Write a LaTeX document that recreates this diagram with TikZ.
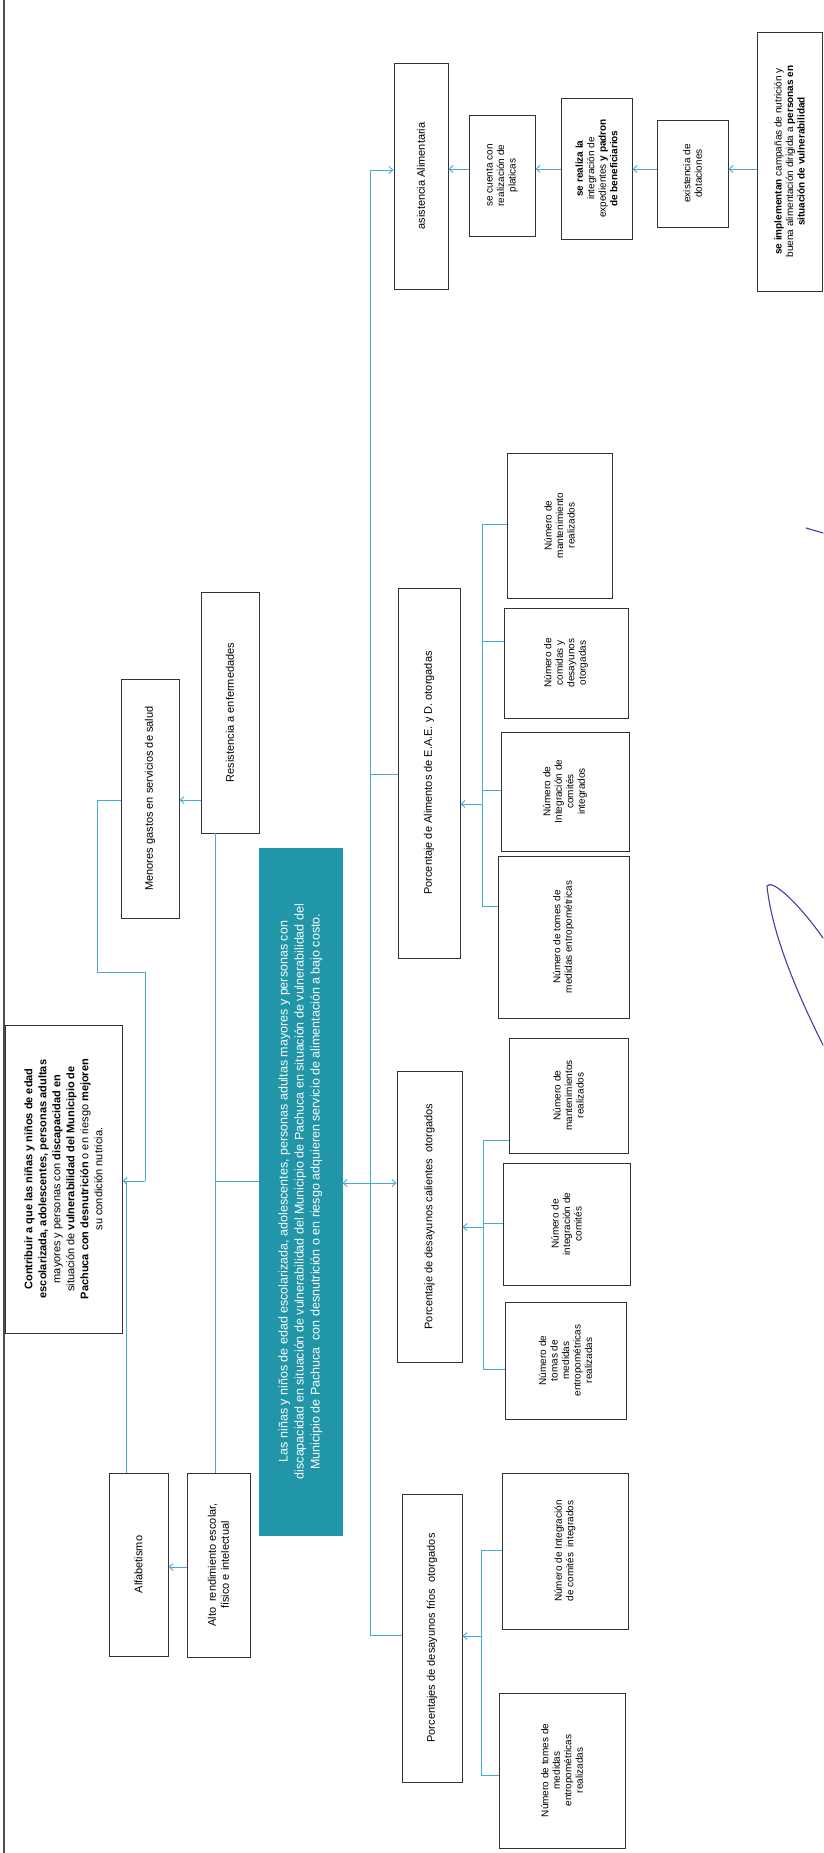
\documentclass[tikz,border=0pt]{standalone}
\usepackage{fontspec}
\setmainfont{Liberation Sans}
\usetikzlibrary{arrows.meta,calc}
\definecolor{tealc}{RGB}{32,150,168}
\definecolor{conn}{RGB}{72,168,215}
\definecolor{ink}{RGB}{70,60,165}
\tikzset{
  box/.style={draw=black!80, line width=0.9pt, fill=white, align=center, inner sep=1pt, rotate=90, font=\fontsize{10}{11.5}\selectfont},
  bigbox/.style={box, font=\fontsize{11}{13}\selectfont},
  finbox/.style={box, font=\fontsize{11}{14}\selectfont},
  tealbox/.style={box, fill=tealc, draw=tealc, text=white, font=\fontsize{12.5}{16}\selectfont},
  link/.style={draw=conn, line width=0.9pt},
  arr/.style={link, -{Straight Barb[length=4pt,width=7pt]}},
  sig/.style={draw=ink, line width=1.1pt, line cap=round}
}
\newcommand\mkbox[7][box]{\node[#1,minimum width={(#6-#5)*1pt},minimum height={(#4-#3)*1pt}] (#2) at ({(#3+#4)/2},{(#5+#6)/2}) {#7};}
\begin{document}
\begin{tikzpicture}[x=1pt,y=-1pt]
\fill[white] (0,0) rectangle (824,1853);
\useasboundingbox (0,0) rectangle (824,1853);
\draw[black!70, line width=1.2pt] (4,0) -- (4,1853);

% Fines
\mkbox[finbox]{contrib}{5}{122}{1025}{1333}{\textbf{Contribuir a que las niñas y niños de edad}\\\textbf{escolarizada, adolescentes, personas adultas}\\mayores y personas con \textbf{discapacidad en}\\situación de \textbf{vulnerabilidad del Municipio de}\\\textbf{Pachuca con desnutrición} o en riesgo \textbf{mejoren}\\su condición nutricia.}
\mkbox[bigbox]{menores}{121}{179}{679}{918}{Menores gastos en servicios de salud}
\mkbox[bigbox]{alfab}{109}{168}{1473}{1656}{Alfabetismo}
% Efectos
\mkbox[bigbox]{resist}{201}{259}{592}{833}{Resistencia a enfermedades}
\mkbox[bigbox]{alto}{187}{250}{1473}{1657}{Alto\ \ rendimiento escolar,\\físico e intelectual}
% Propósito
\mkbox[tealbox]{teal}{259}{342}{848}{1535}{Las niñas y niños de edad escolarizada, adolescentes, personas adultas mayores y personas con\\discapacidad en situación de vulnerabilidad del Municipio de Pachuca en situación de vulnerabilidad del\\Municipio de Pachuca\ \ con desnutrición o en riesgo adquieren servicio de alimentación a bajo costo.}
% Componentes
\mkbox[bigbox]{asist}{394}{448}{63}{289}{asistencia Alimentaria}
\mkbox[bigbox]{eaeyd}{398}{460}{588}{958}{Porcentaje de Alimentos de E.A.E. y D. otorgadas}
\mkbox[bigbox]{calient}{397}{462}{1071}{1362}{Porcentaje de desayunos calientes\ \ otorgados}
\mkbox[bigbox]{frios}{402}{462}{1494}{1782}{Porcentajes de desayunos fríos\ \ otorgados}
% Actividades EAEyD
\mkbox{emant}{507}{612}{453}{598}{Número de\\mantenimiento\\realizados}
\mkbox{ecom}{504}{628}{608}{718}{Número de\\comidas y\\desayunos\\otorgadas}
\mkbox{einteg}{501}{629}{732}{851}{Número de\\Integración de\\comités\\integrados}
\mkbox{etomes}{498}{629}{856}{1018}{Número de tomes de\\medidas entropométricas}
% Actividades calientes
\mkbox{cmant}{509}{628}{1038}{1153}{Número de\\mantenimientos\\realizados}
\mkbox{cinteg}{503}{630}{1163}{1285}{Número de\\integración de\\comités}
\mkbox{ctomas}{505}{626}{1302}{1419}{Número de\\tomas de\\medidas\\entropométricas\\realizadas}
% Actividades frios
\mkbox{finteg}{502}{628}{1473}{1629}{Número de Integración\\de comités\ \ integrados}
\mkbox{ftomes}{499}{625}{1693}{1848}{Número de tomes de\\medidas\\entropométricas\\realizadas}
% Asistencia chain
\mkbox{platic}{469}{535}{115}{236}{se cuenta con\\realización de\\platicas}
\mkbox{exped}{561}{632}{98}{239}{\textbf{se realiza la}\\integración de\\expedientes \textbf{y padron}\\\textbf{de beneficiarios}}
\mkbox{dotac}{657}{728}{120}{227}{existencia de\\dotaciones}
\mkbox{implem}{757}{822}{32}{291}{\textbf{se implementan} campañas de nutrición y\\buena alimentación dirigida a \textbf{personas en}\\\textbf{situación de vulnerabilidad}}

% chain arrows
\coordinate (hA) at (0,169);
\draw[arr] (implem.north |- hA) -- (dotac.south |- hA);
\draw[arr] (dotac.north |- hA) -- (exped.south |- hA);
\draw[arr] (exped.north |- hA) -- (platic.south |- hA);
\draw[arr] (platic.north |- hA) -- (asist.south |- hA);

% main trunk
\coordinate (tTop) at (370,170);
\coordinate (tE) at (370,774);
\coordinate (tC) at (370,1183);
\coordinate (tBot) at (370,1635);
\draw[link] (tTop) -- (tBot);
\draw[arr] (tTop) -- (asist.north |- tTop);
\draw[link] (tE) -- (eaeyd.north |- tE);
\draw[arr] (tC) -- (teal.south |- tC);
\draw[arr] (tC) -- (calient.north |- tC);
\draw[link] (tBot) -- (frios.north |- tBot);

% left side
\coordinate (lJ) at (215,1181);
\draw[link] (teal.north |- lJ) -- (lJ);
\draw[link] (lJ |- resist.west) -- (lJ |- alto.east);
\coordinate (mRow) at (0,800);
\draw[arr] (resist.north |- mRow) -- (menores.south |- mRow);
\coordinate (m1) at (97,800);
\coordinate (m2) at (97,972);
\coordinate (m3) at (145,972);
\coordinate (fJ) at (145,1181);
\draw[link] (menores.north |- mRow) -- (m1) -- (m2) -- (m3) -- (fJ);
\draw[arr] (fJ) -- (contrib.south |- fJ);
\coordinate (aJ) at (126,1181);
\draw[link] (aJ |- alfab.east) -- (aJ);
\coordinate (aRow) at (0,1567);
\draw[arr] (alto.north |- aRow) -- (alfab.south |- aRow);

% EAEyD activities
\coordinate (e1) at (482,524);
\coordinate (e2) at (482,641);
\coordinate (e3) at (482,790);
\coordinate (e4) at (482,906);
\coordinate (eA) at (482,804);
\draw[link] (e1) -- (e4);
\draw[link] (e1) -- (emant.north |- e1);
\draw[link] (e2) -- (ecom.north |- e2);
\draw[link] (e3) -- (einteg.north |- e3);
\draw[link] (e4) -- (etomes.north |- e4);
\draw[arr] (eA) -- (eaeyd.south |- eA);

% calientes activities
\coordinate (c1) at (483,1140);
\coordinate (c2) at (483,1223);
\coordinate (c3) at (483,1369);
\coordinate (cA) at (483,1227);
\draw[link] (c1) -- (c3);
\draw[link] (c1) -- (cmant.north |- c1);
\draw[link] (c2) -- (cinteg.north |- c2);
\draw[link] (c3) -- (ctomas.north |- c3);
\draw[arr] (cA) -- (calient.south |- cA);

% frios activities
\coordinate (f1) at (481,1550);
\coordinate (f2) at (481,1775);
\coordinate (fA) at (481,1636);
\draw[link] (f1) -- (f2);
\draw[link] (f1) -- (finteg.north |- f1);
\draw[link] (f2) -- (ftomes.north |- f2);
\draw[arr] (fA) -- (frios.south |- fA);

% signature
\draw[sig] (823,938) .. controls (800,905) and (772,878) .. (767,886) .. controls (772,935) and (798,995) .. (823,1045);
\draw[sig] (806,528) -- (823,533);
\end{tikzpicture}
\end{document}
